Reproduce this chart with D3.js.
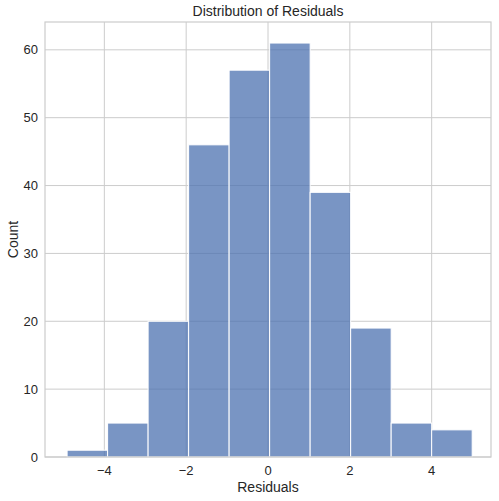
<!DOCTYPE html>
<html><head><meta charset="utf-8">
<script src="https://cdn.jsdelivr.net/npm/d3@7"></script>
<style>body{margin:0;background:#fff}text{font-family:"Liberation Sans",Arial,sans-serif;fill:#262626}</style>
</head><body><svg id="c" width="499" height="501"></svg>
<script>
const binStart = -4.91, binWidth = 0.99;
const counts = [1,5,20,46,57,61,39,19,5,4];
const xTicks = [-4,-2,0,2,4];
const yTicks = [0,10,20,30,40,50,60];
const title = "Distribution of Residuals", xLabel = "Residuals", yLabel = "Count";

const svg = d3.select("#c");
const L=45,R=491,T=22,B=457;
const x = d3.scaleLinear().domain([-5.45,5.45]).range([L,R]);
const y = d3.scaleLinear().domain([0,64.1]).range([B,T]);
const g = svg.append("g");
g.selectAll(".gx").data(xTicks).join("line").attr("x1",d=>x(d)).attr("x2",d=>x(d)).attr("y1",T).attr("y2",B).attr("stroke","#cccccc");
g.selectAll(".gy").data(yTicks).join("line").attr("y1",d=>y(d)).attr("y2",d=>y(d)).attr("x1",L).attr("x2",R).attr("stroke","#cccccc");
g.selectAll("rect.b").data(counts).join("rect").attr("class","b")
 .attr("x",(d,i)=>x(binStart+i*binWidth)).attr("width",(d,i)=>x(binStart+(i+1)*binWidth)-x(binStart+i*binWidth))
 .attr("y",d=>y(d)).attr("height",d=>B-y(d))
 .attr("fill","#4c72b0").attr("fill-opacity",0.75).attr("stroke","#fff").attr("stroke-width",1);
g.append("rect").attr("x",L).attr("y",T).attr("width",R-L).attr("height",B-T).attr("fill","none").attr("stroke","#cccccc").attr("stroke-width",1.2);
g.selectAll(".tx").data(xTicks).join("text").attr("x",d=>x(d)).attr("y",B+18).attr("text-anchor","middle").attr("font-size",13).text(d=>d<0?"\u2212"+(-d):d);
g.selectAll(".ty").data(yTicks).join("text").attr("x",L-7).attr("y",d=>y(d)+4.5).attr("text-anchor","end").attr("font-size",13).text(d=>d);
svg.append("text").attr("x",(L+R)/2).attr("y",16).attr("text-anchor","middle").attr("font-size",14).text(title);
svg.append("text").attr("x",(L+R)/2).attr("y",492).attr("text-anchor","middle").attr("font-size",14).text(xLabel);
svg.append("text").attr("transform",`translate(18,${(T+B)/2}) rotate(-90)`).attr("text-anchor","middle").attr("font-size",14).text(yLabel);
</script></body></html>
